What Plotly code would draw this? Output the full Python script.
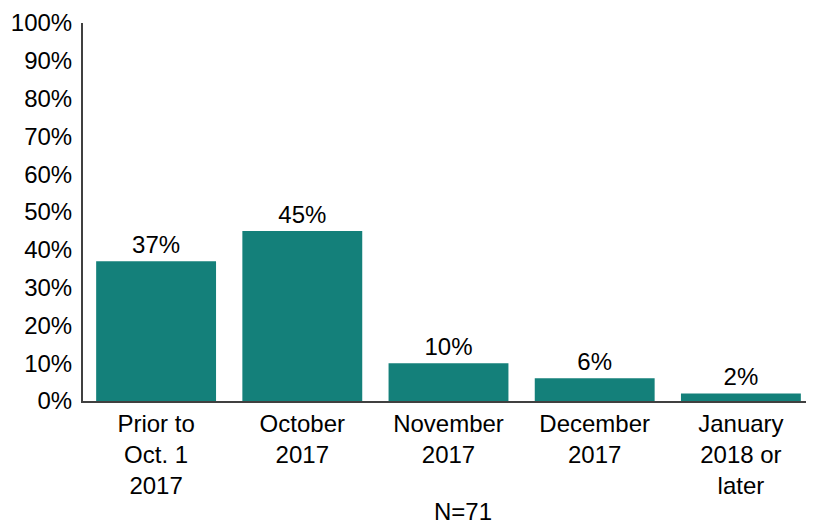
import plotly.graph_objects as go

categories = ["Prior to<br>Oct. 1<br>2017", "October<br>2017", "November<br>2017",
              "December<br>2017", "January<br>2018 or<br>later"]
values = [37, 45, 10, 6, 2]
labels = ["37%", "45%", "10%", "6%", "2%"]
y_ticks = list(range(0, 101, 10))
y_tick_text = [f"{v}%" for v in y_ticks]
note = "N=71"

bar_color = "#14807a"
axis_color = "#404040"
font_family = "Liberation Sans, Arial, sans-serif"

fig = go.Figure()
fig.add_trace(go.Bar(
    x=categories,
    y=values,
    text=labels,
    textposition="outside",
    textfont=dict(size=24, color="#000"),
    cliponaxis=False,
    marker=dict(color=bar_color, line=dict(width=0)),
))

fig.add_annotation(
    text=note, x=0.52, y=-0.292, xref="paper", yref="paper",
    xanchor="center", yanchor="middle",
    showarrow=False, font=dict(size=24, color="#000"),
)

# page body has an 8px margin, so the figure is 8px smaller than the window
fig.update_layout(
    width=806,
    height=517,
    paper_bgcolor="#fff",
    plot_bgcolor="#fff",
    font=dict(family=font_family, size=24, color="#000"),
    bargap=0.18,
    showlegend=False,
    margin=dict(l=75, r=0, t=15, b=124, autoexpand=False),
    xaxis=dict(
        showline=True, linecolor=axis_color, linewidth=2,
        showgrid=False, ticks="", tickfont=dict(size=24),
    ),
    yaxis=dict(
        range=[0, 100], tickvals=y_ticks, ticktext=y_tick_text,
        showline=True, linecolor=axis_color, linewidth=2,
        showgrid=False, zeroline=False, ticks="", ticklabelstandoff=4,
        ticklabeloverflow="allow",
        tickfont=dict(size=24),
    ),
)

fig.write_html("out.html")
